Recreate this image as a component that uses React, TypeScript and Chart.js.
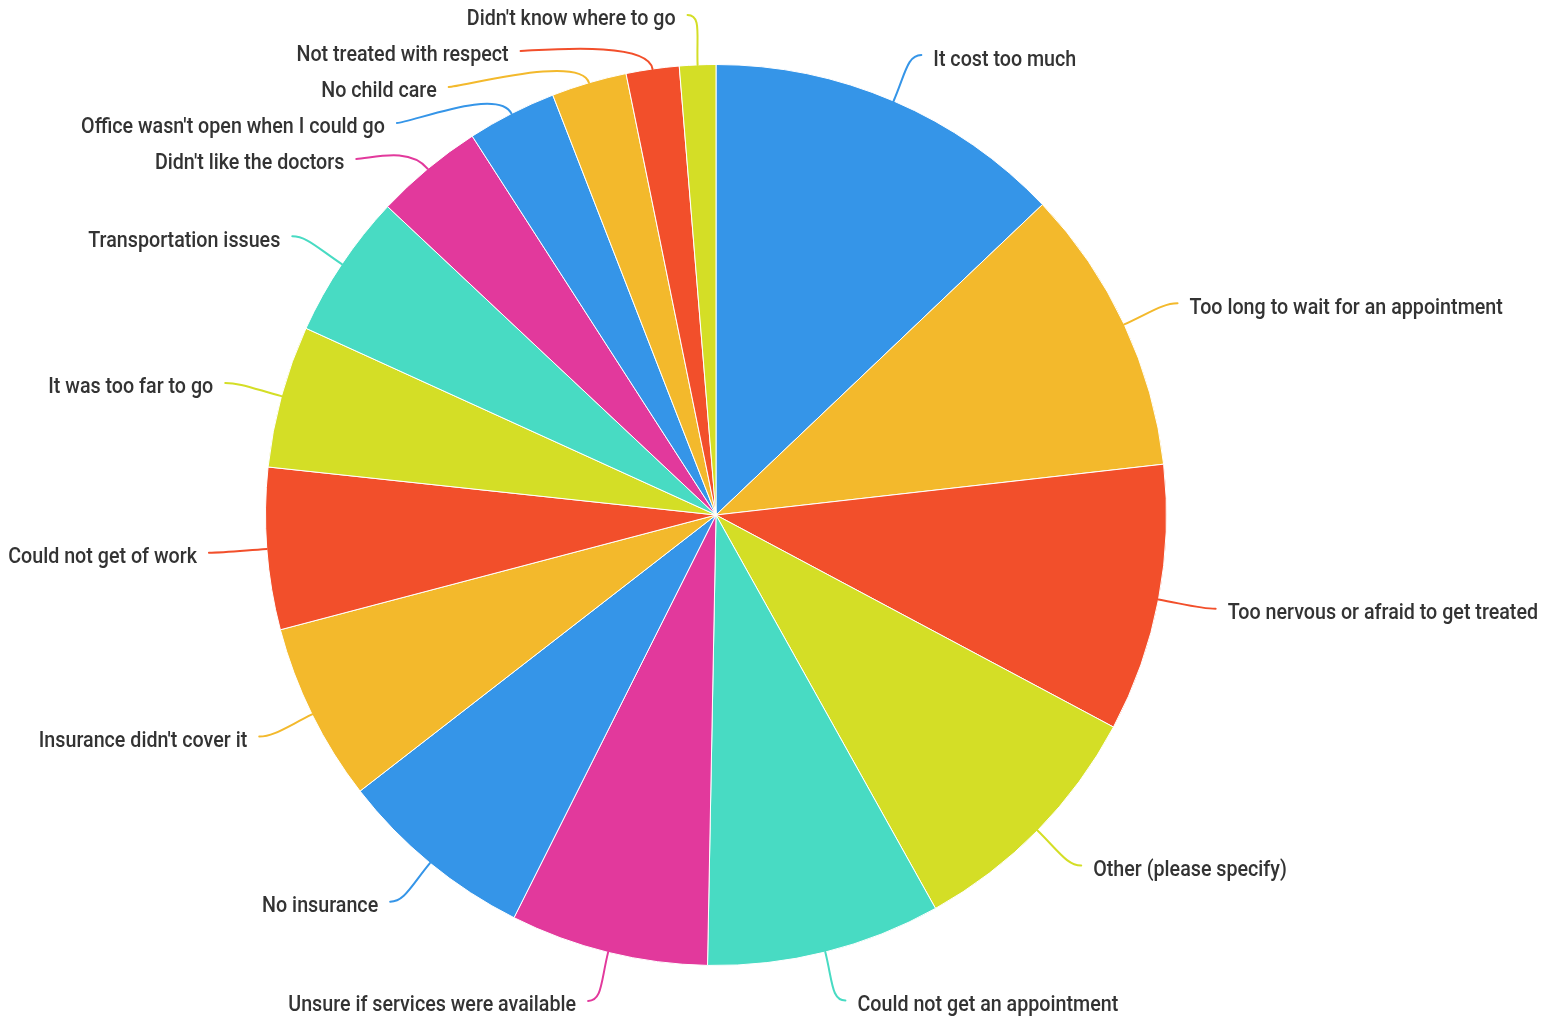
import React, { useEffect, useRef } from "react";
import { Chart, registerables } from "chart.js";

Chart.register(...registerables);

const categories: string[] = [
  "It cost too much",
  "Too long to wait for an appointment",
  "Too nervous or afraid to get treated",
  "Other (please specify)",
  "Could not get an appointment",
  "Unsure if services were available",
  "No insurance",
  "Insurance didn't cover it",
  "Could not get of work",
  "It was too far to go",
  "Transportation issues",
  "Didn't like the doctors",
  "Office wasn't open when I could go",
  "No child care",
  "Not treated with respect",
  "Didn't know where to go",
];

const values: number[] = [12.9, 10.3, 9.6, 9.1, 8.4, 7.1, 7.1, 6.4, 5.8, 5.1, 5.2, 3.9, 3.2, 2.7, 1.9, 1.3];

const palette: string[] = ["#3595E8", "#F3B92C", "#F24F2B", "#D4DE26", "#48DBC3", "#E2399C"];

const labelPlugin = {
  id: "outerLabels",
  afterDraw(chart: any) {
    const ctx: CanvasRenderingContext2D = chart.ctx;
    const meta = chart.getDatasetMeta(0);
    const ext = 50;
    const spacing = 36;
    type L = { i: number; mid: number; side: number; x: number; y: number; y0: number; cx: number; cy: number; R: number };
    const items: L[] = meta.data.map((arc: any, i: number) => {
      const p = arc.getProps(["x", "y", "startAngle", "endAngle", "outerRadius"], true);
      const mid = (p.startAngle + p.endAngle) / 2;
      const side = Math.cos(mid) >= 0 ? 1 : -1;
      const R = p.outerRadius;
      const y0 = p.y + Math.sin(mid) * (R + ext);
      return { i, mid, side, x: p.x + Math.cos(mid) * (R + ext), y: y0, y0, cx: p.x, cy: p.y, R };
    });
    for (const s of [1, -1]) {
      const group = items.filter((d) => d.side === s).sort((a, b) => a.y0 - b.y0);
      let prev = -Infinity;
      for (const d of group) {
        const y = Math.max(d.y0, prev + spacing);
        if (y > d.y0 + 0.5) {
          d.y = y;
          const rr = d.R + ext;
          const dy = y - d.cy;
          d.x = d.cx + s * Math.sqrt(Math.max(0, rr * rr - dy * dy));
        }
        prev = d.y;
      }
    }
    ctx.save();
    for (const d of items) {
      const color = palette[d.i % palette.length];
      const p0x = d.cx + Math.cos(d.mid) * d.R;
      const p0y = d.cy + Math.sin(d.mid) * d.R;
      const c1x = d.cx + Math.cos(d.mid) * (d.R + 30);
      const c1y = d.cy + Math.sin(d.mid) * (d.R + 30);
      const ex = d.x + d.side * 8;
      const ey = d.y;
      const c2x = ex - d.side * 14;
      const c2y = ey;
      ctx.beginPath();
      ctx.moveTo(p0x, p0y);
      ctx.bezierCurveTo(c1x, c1y, c2x, c2y, ex, ey);
      ctx.strokeStyle = color;
      ctx.lineWidth = 2;
      ctx.lineCap = "round";
      ctx.stroke();

      const tx = ex + d.side * 12;
      const ty = ey + 5;
      ctx.save();
      ctx.translate(tx, ty);
      ctx.scale(0.895, 1);
      ctx.font = "500 22px Roboto";
      ctx.fillStyle = "#333333";
      ctx.textBaseline = "middle";
      ctx.textAlign = d.side > 0 ? "left" : "right";
      ctx.fillText(categories[d.i], 0, 0);
      ctx.restore();
    }
    ctx.restore();
  },
};

export default function App() {
  const ref = useRef<HTMLCanvasElement | null>(null);
  useEffect(() => {
    if (!ref.current) return;
    const chart = new Chart(ref.current, {
      type: "pie",
      data: {
        labels: categories,
        datasets: [
          {
            data: values,
            backgroundColor: values.map((_, i) => palette[i % palette.length]),
            borderColor: "#ffffff",
            borderWidth: 1,
          },
        ],
      },
      options: {
        animation: false,
        responsive: false,
        maintainAspectRatio: false,
        layout: { padding: { top: 64, bottom: 51, left: 265, right: 386 } },
        plugins: { legend: { display: false }, tooltip: { enabled: false } },
      },
      plugins: [labelPlugin],
    });
    return () => chart.destroy();
  }, []);
  return (
    <div style={{ position: "absolute", left: 0, top: 0, width: 1553, height: 1017, background: "#fff" }}>
      <canvas ref={ref} width={1553} height={1017} />
    </div>
  );
}
